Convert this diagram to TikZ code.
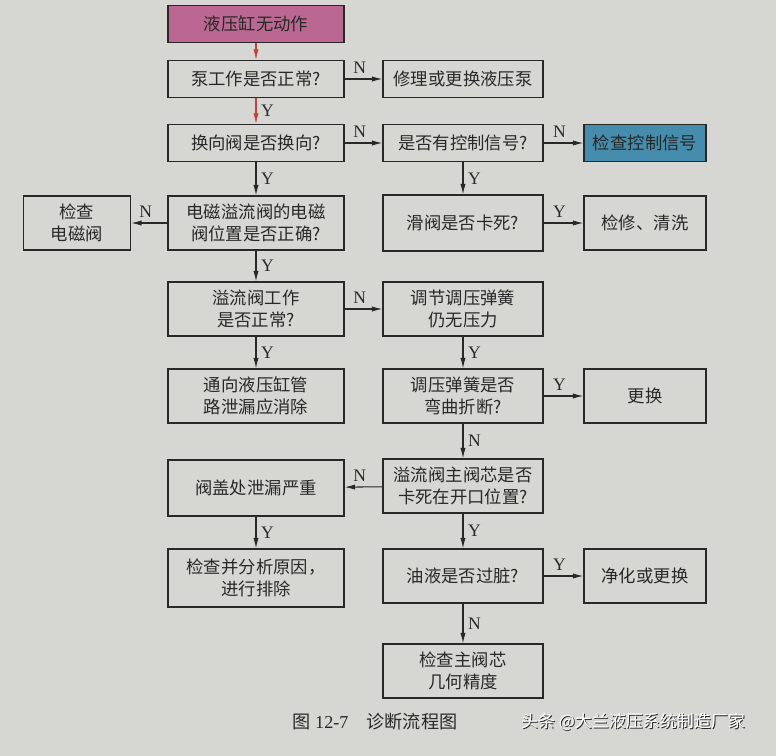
\documentclass[tikz,border=0pt]{standalone}
\usepackage{fontspec}
\setmainfont{Liberation Serif}
\newfontfamily\cjk{Noto Sans CJK SC}
\usetikzlibrary{arrows.meta}

\definecolor{paper}{RGB}{214,214,210}
\definecolor{pinkbox}{RGB}{186,104,146}
\definecolor{bluebox}{RGB}{70,140,172}
\definecolor{ink}{RGB}{40,40,40}
\definecolor{redline}{RGB}{196,64,64}

\begin{document}
\begin{tikzpicture}[x=0.03cm,y=-0.03cm,
  box/.style={draw=ink,line width=1.1pt,align=center,text=ink,inner sep=1pt,
    font=\cjk\fontsize{14.8}{18.5}\selectfont},
  lbox/.style={box,minimum width=5.28cm},
  rbox/.style={box,minimum width=4.8cm},
  fbox/.style={box,minimum width=3.66cm},
  low/.style={minimum height=1.11cm},
  high/.style={minimum height=1.62cm},
  flow/.style={draw=ink,line width=0.9pt,-{Latex[length=9pt,width=4.5pt]}},
  yn/.style={font=\fontsize{15}{15}\selectfont,text=ink,inner sep=4pt}]

  % page
  \fill[paper] (0,0) rectangle (776,756);
  \useasboundingbox (0,0) rectangle (776,756);

  % left column
  \node[lbox,low,fill=pinkbox] (start) at (256,24) {液压缸无动作};
  \node[lbox,low] (pump)   at (256,79)  {泵工作是否正常?};
  \node[lbox,low] (dirv)   at (256,143) {换向阀是否换向?};
  \node[lbox,high] (solpos) at (256,223) {电磁溢流阀的电磁\\阀位置是否正确?};
  \node[lbox,high] (relief) at (256,309) {溢流阀工作\\是否正常?};
  \node[lbox,high] (leak)   at (256,396) {通向液压缸管\\路泄漏应消除};
  \node[lbox,high,minimum height=1.68cm] (cover) at (256,488) {阀盖处泄漏严重};
  \node[lbox,high,minimum height=1.74cm] (check) at (256,578) {检查并分析原因，\\进行排除};

  % far left
  \node[box,high,minimum width=3.21cm] (solv) at (77,223) {检查\\电磁阀};

  % right column
  \node[rbox,low] (repump) at (463,79)  {修理或更换液压泵};
  \node[rbox,low] (signal) at (463,143) {是否有控制信号?};
  \node[rbox,high,minimum height=1.68cm] (spool) at (463,223) {滑阀是否卡死?};
  \node[rbox,high] (adjust) at (463,309) {调节调压弹簧\\仍无压力};
  \node[rbox,high] (spring) at (463,396) {调压弹簧是否\\弯曲折断?};
  \node[rbox,high] (mainsp) at (463,486) {溢流阀主阀芯是否\\卡死在开口位置?};
  \node[rbox,high] (oil)    at (463,576) {油液是否过脏?};
  \node[rbox,high] (geom)   at (463,671) {检查主阀芯\\几何精度};

  % far right
  \node[fbox,low,fill=bluebox] (chksig) at (645,143) {检查控制信号};
  \node[fbox,high] (clean)  at (645,223) {检修、清洗};
  \node[fbox,high] (renew)  at (645,396) {更换};
  \node[fbox,high] (purify) at (645,576) {净化或更换};

  % connectors
  \draw[flow,draw=redline] (start) -- (pump);
  \draw[flow,draw=redline] (pump) -- node[yn,right] {Y} (dirv);
  \draw[flow] (pump) -- node[yn,above,pos=0.4] {N} (repump);
  \draw[flow] (dirv) -- node[yn,above,pos=0.4] {N} (signal);
  \draw[flow] (signal) -- node[yn,above,pos=0.4] {N} (chksig);
  \draw[flow] (dirv) -- node[yn,right] {Y} (solpos);
  \draw[flow] (signal) -- node[yn,right] {Y} (spool);
  \draw[flow] (solpos) -- node[yn,above,pos=0.6] {N} (solv);
  \draw[flow] (spool) -- node[yn,above,pos=0.4] {Y} (clean);
  \draw[flow] (solpos) -- node[yn,right] {Y} (relief);
  \draw[flow] (relief) -- node[yn,above,pos=0.4] {N} (adjust);
  \draw[flow] (relief) -- node[yn,right] {Y} (leak);
  \draw[flow] (adjust) -- node[yn,right] {Y} (spring);
  \draw[flow] (spring) -- node[yn,above,pos=0.4] {Y} (renew);
  \draw[flow] (spring) -- node[yn,right] {N} (mainsp);
  \draw[flow] (mainsp) -- node[yn,above,pos=0.6] {N} (cover);
  \draw[flow] (mainsp) -- node[yn,right] {Y} (oil);
  \draw[flow] (cover) -- node[yn,right] {Y} (check);
  \draw[flow] (oil) -- node[yn,above,pos=0.4] {Y} (purify);
  \draw[flow] (oil) -- node[yn,right] {N} (geom);

  % caption and watermark
  \node[text=ink,font=\fontsize{15.5}{18}\selectfont] (caption) at (375,722)
    {{\cjk 图} 12-7\quad{\cjk 诊断流程图}};
  \node[text=black!85,font=\cjk\fontsize{14.5}{18}\selectfont] (markshade) at (634,723)
    {头条 @大兰液压系统制造厂家};
  \node[text=white,font=\cjk\fontsize{14.5}{18}\selectfont] (mark) at (633,722)
    {头条 @大兰液压系统制造厂家};
\end{tikzpicture}
\end{document}
